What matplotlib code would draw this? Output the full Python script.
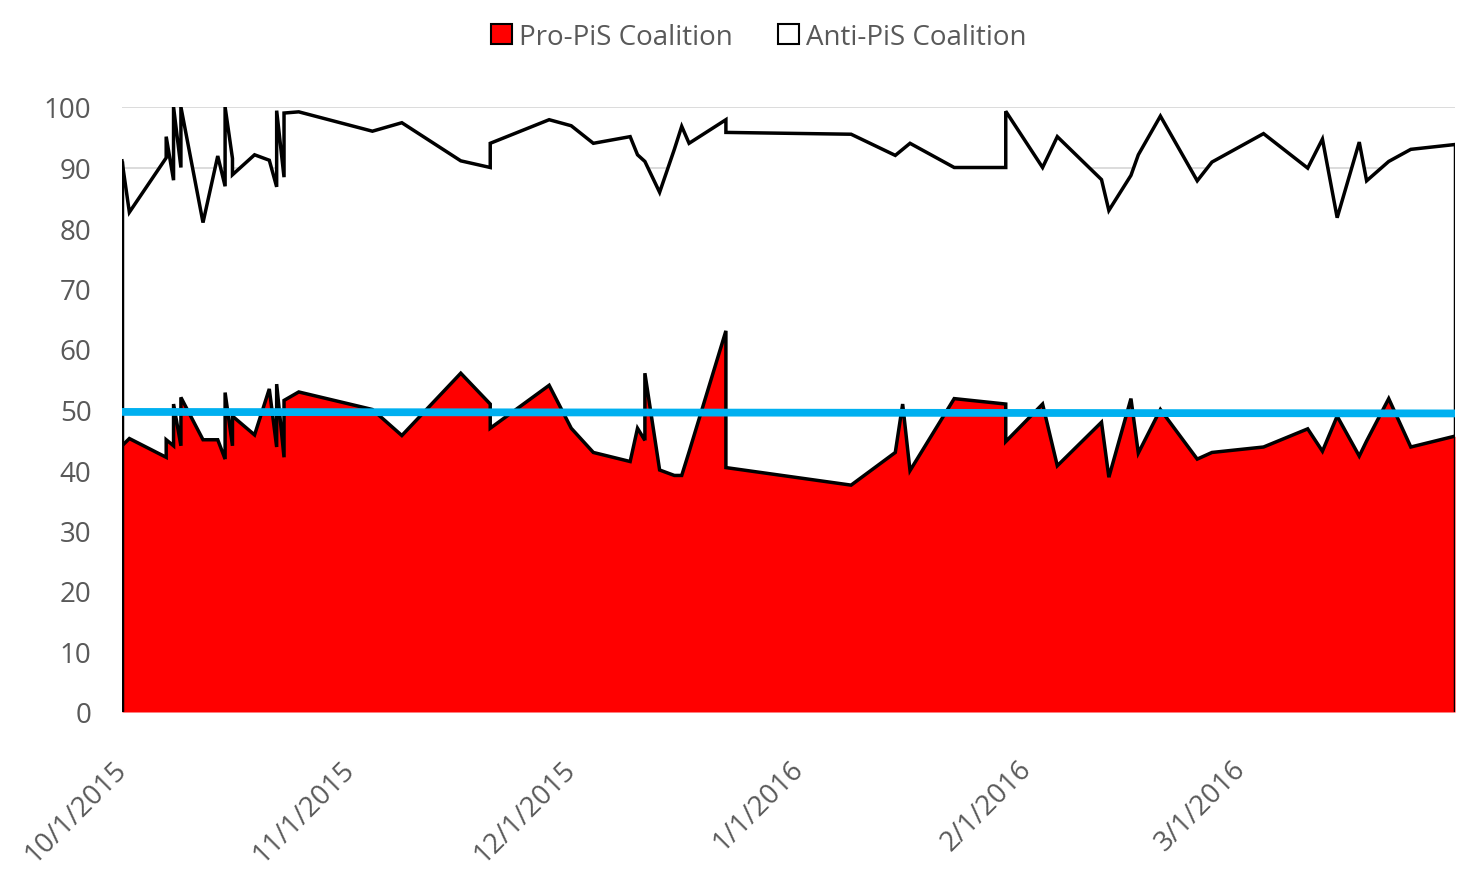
import matplotlib
matplotlib.use("Agg")
import matplotlib.pyplot as plt
import matplotlib.dates as mdates
from matplotlib.patches import Patch
import numpy as np
import pandas as pd

plt.rcParams['font.family'] = ['Open Sans', 'DejaVu Sans']

dates = ["2015-10-01", "2015-10-02", "2015-10-07", "2015-10-07", "2015-10-08", "2015-10-08",
         "2015-10-09", "2015-10-09", "2015-10-12", "2015-10-14", "2015-10-15", "2015-10-15",
         "2015-10-16", "2015-10-16", "2015-10-19", "2015-10-21", "2015-10-22", "2015-10-22",
         "2015-10-23", "2015-10-23", "2015-10-25", "2015-11-04", "2015-11-08", "2015-11-16",
         "2015-11-20", "2015-11-20", "2015-11-28", "2015-12-01", "2015-12-04", "2015-12-09",
         "2015-12-10", "2015-12-11", "2015-12-11", "2015-12-13", "2015-12-15", "2015-12-16",
         "2015-12-17", "2015-12-22", "2015-12-22", "2016-01-08", "2016-01-14", "2016-01-15",
         "2016-01-16", "2016-01-22", "2016-01-29", "2016-01-29", "2016-02-03", "2016-02-05",
         "2016-02-11", "2016-02-12", "2016-02-15", "2016-02-16", "2016-02-19", "2016-02-24",
         "2016-02-26", "2016-03-04", "2016-03-10", "2016-03-12", "2016-03-14", "2016-03-17",
         "2016-03-18", "2016-03-21", "2016-03-24", "2016-03-30"]

pro_pis = [44.0, 45.2, 42.1, 45.0, 44.0, 50.9,
           44.0, 52.0, 45.0, 45.0, 41.8, 52.8,
           44.0, 48.9, 45.8, 53.4, 43.8, 54.2,
           42.1, 51.5, 52.9, 50.0, 45.7, 56.0,
           50.9, 46.9, 54.0, 46.9, 42.9, 41.4,
           46.9, 44.9, 56.0, 40.0, 39.1, 39.1,
           43.0, 63.0, 40.4, 37.5, 42.9, 50.9,
           39.9, 51.8, 50.9, 44.7, 50.9, 40.7,
           47.9, 38.8, 51.8, 42.8, 50.0, 41.8,
           42.9, 43.8, 46.8, 43.1, 48.9, 42.3,
           44.8, 51.8, 43.8, 45.6]

anti_pis = [47.1, 37.4, 49.5, 50.1, 43.9, 49.1,
            46.0, 48.0, 35.9, 46.9, 45.1, 47.2,
            47.5, 39.9, 46.3, 37.8, 43.0, 45.2,
            46.3, 47.5, 46.3, 46.0, 51.7, 35.1,
            39.1, 47.1, 43.9, 50.0, 51.1, 53.7,
            45.2, 46.1, 35.0, 45.9, 53.9, 57.7,
            51.0, 34.9, 55.4, 58.0, 49.1, 42.1,
            54.1, 38.2, 39.1, 54.6, 39.1, 54.4,
            40.1, 44.1, 36.9, 49.3, 48.5, 46.0,
            48.0, 51.8, 43.1, 51.6, 32.8, 51.9,
            43.0, 39.2, 49.2, 48.2]

trend_dates = ["2015-10-01", "2016-03-30"]
trend_values = [49.6, 49.35]

tick_dates = ["2015-10-01", "2015-11-01", "2015-12-01", "2016-01-01", "2016-02-01", "2016-03-01"]
series_names = ["Pro-PiS Coalition", "Anti-PiS Coalition"]

x = mdates.date2num(pd.to_datetime(dates))
pro = np.array(pro_pis)
top = pro + np.array(anti_pis)
tx = mdates.date2num(pd.to_datetime(trend_dates))
ticks = pd.to_datetime(tick_dates)

W, H = 1478, 878
fig = plt.figure(figsize=(W / 100, H / 100), dpi=100)
ax = fig.add_axes([122 / W, 1 - 713 / H, (1455 - 122) / W, (713 - 108) / H])

grey = '#595959'
fs = 20
ax.set_ylim(0, 100)
ax.set_xlim(x[0], x[-1])
ax.set_yticks(np.arange(0, 101, 10))
ax.grid(axis='y', color='#d9d9d9', lw=1.3, zorder=0)
ax.set_axisbelow(True)

ax.fill_between(x, 0, pro, color='#ff0000', lw=0, zorder=2)
ax.fill_between(x, pro, top, color='white', lw=0, zorder=2)
ax.plot(x, pro, color='black', lw=2.5, zorder=3, solid_joinstyle='miter')
ax.plot(x, top, color='black', lw=2.5, zorder=3, solid_joinstyle='miter')
ax.vlines([x[0], x[-1]], 0, [top[0], top[-1]], color='black', lw=2.5, zorder=3)
ax.plot(tx, trend_values, color='#00b0f0', lw=5.6, zorder=4, solid_capstyle='butt')

for s in ax.spines.values():
    s.set_visible(False)

ax.set_xticks(mdates.date2num(ticks))
ax.set_xticklabels([f"{d.month}/{d.day}/{d.year}" for d in ticks])
ax.tick_params(axis='x', length=0, pad=38, labelsize=fs, labelcolor=grey)
ax.tick_params(axis='y', length=0, pad=22, labelsize=fs, labelcolor=grey)
for lab in ax.get_xticklabels():
    lab.set_rotation(45)
    lab.set_ha('right')
    lab.set_va('center')
    lab.set_rotation_mode('anchor')

handles = [Patch(facecolor='#ff0000', edgecolor='black', lw=1.5),
           Patch(facecolor='white', edgecolor='black', lw=1.5)]
fig.legend(handles, series_names, loc='center', bbox_to_anchor=(0.5135, 1 - 38 / H),
           ncol=2, frameon=False, fontsize=fs, labelcolor=grey,
           handlelength=0.75, handleheight=0.75, handletextpad=0.25, columnspacing=1.65)

fig.savefig("out.png", dpi=100)
